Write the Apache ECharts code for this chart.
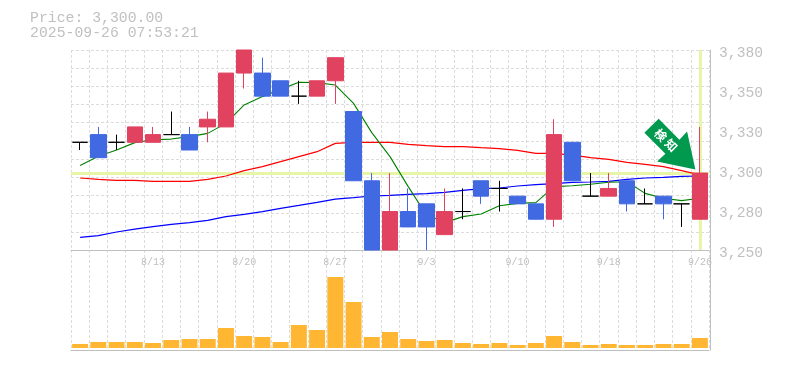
<!DOCTYPE html>
<html><head><meta charset="utf-8">
<style>html,body{margin:0;padding:0;background:#fff}#c{width:785px;height:370px}</style>
<script src="https://cdn.jsdelivr.net/npm/echarts@6/dist/echarts.min.js"></script>
</head><body><div id="c"></div>
<script>
const dates=['8/6','8/7','8/8','8/12','8/13','8/14','8/15','8/18','8/19','8/20','8/21','8/22','8/25','8/26','8/27','8/28','8/29','9/1','9/2','9/3','9/4','9/5','9/8','9/9','9/10','9/11','9/12','9/16','9/17','9/18','9/19','9/22','9/24','9/25','9/26'];
const opens=[3320,3325,3320,3320,3320,3325,3325,3330,3330,3365,3365,3360,3350,3350,3360,3340,3295,3250,3275,3280,3260,3275,3295,3290,3285,3280,3270,3320,3285,3285,3295,3280,3285,3280,3270];
const closes=[3320,3310,3320,3330,3325,3325,3315,3335,3365,3380,3350,3350,3350,3360,3375,3295,3250,3275,3265,3265,3275,3275,3285,3290,3280,3270,3325,3295,3285,3290,3280,3280,3280,3280,3300];
const lows=[3315,3310,3315,3320,3320,3325,3315,3320,3330,3355,3350,3350,3345,3350,3345,3295,3250,3250,3265,3250,3260,3270,3280,3275,3280,3270,3265,3295,3285,3285,3275,3280,3270,3265,3270];
const highs=[3320,3330,3325,3330,3330,3340,3330,3340,3365,3380,3375,3360,3360,3360,3375,3340,3300,3300,3290,3280,3290,3290,3295,3295,3285,3280,3335,3320,3300,3300,3295,3290,3285,3280,3330];
const maGreen=[3305,3310.9,3315,3319.8,3321.7,3322.1,3323.7,3325.8,3332.3,3344.3,3349.7,3354.4,3359,3358.8,3357.2,3345.3,3326.3,3310.7,3291.2,3272.7,3267.8,3271.7,3273.4,3278.8,3280.3,3280.8,3291.2,3291.8,3292.7,3294,3294.4,3286.8,3283.6,3282.1,3283.6];
const maRed=[3296.8,3295.9,3295.3,3295.3,3294.6,3294.6,3294.6,3295.9,3298.1,3301.6,3304.2,3307.4,3310.7,3313.9,3319.3,3320,3320,3320,3318.7,3317.8,3317.2,3317.2,3316.5,3315.9,3314.8,3312.8,3312.8,3311.7,3310,3308.9,3307,3305.7,3304.2,3301.6,3298.8];
const maBlue=[3258.2,3259.3,3261.7,3263.6,3265.2,3266.7,3267.8,3269.3,3271.7,3273.2,3274.9,3277.1,3279,3281,3283.1,3284,3285.1,3285.5,3286.2,3286.6,3287.5,3288.8,3289.9,3290.3,3291.6,3292.5,3293.1,3294,3294.2,3294.6,3295.9,3296.8,3297.2,3297.9,3298.1];
const volumes=[4,6,6,6,5,8,9,9,20,12,11,6,23,18,71,46,11,16,9,7,8,5,4,5,3,5,12,6,3,4,3,3,4,4,10];
const labelEvery=new Set(['8/13','8/20','8/27','9/3','9/10','9/18','9/26']);
const lastPrice=3300;
const titleLines=['Price: 3,300.00','2025-09-26 07:53:21'];

const RED='#e0425f',BLUE='#4169e1',GREY='#c0c0c0',GRID='#dcdcdc';
const FONT='"Liberation Mono",monospace';
const arrow='path://M14.3 0L0 14L21 35L12.7 42.7L51 50.7L42.7 12.7L35 21Z';
const chart=echarts.init(document.getElementById('c'),null,{renderer:'canvas'});
const vSplit={show:true,interval:0,lineStyle:{color:GRID,type:[3,2],width:1}};
chart.setOption({
  animation:false,
  backgroundColor:'#fff',
  title:{left:30,top:11,padding:0,text:titleLines.join('\n'),textStyle:{fontFamily:FONT,fontSize:14.8,fontWeight:'normal',color:GREY,lineHeight:15}},
  grid:[{left:71,top:50,width:638,height:200},{left:71,top:250,width:638,height:100}],
  xAxis:[
    {type:'category',gridIndex:0,data:dates,boundaryGap:true,
     axisLine:{lineStyle:{color:GREY,width:1},onZero:false},axisTick:{show:false},
     axisLabel:{interval:0,formatter:v=>labelEvery.has(v)?v:'',fontFamily:FONT,fontSize:10,color:GREY,margin:7,hideOverlap:false},
     splitLine:vSplit},
    {type:'category',gridIndex:1,data:dates,boundaryGap:true,
     axisLine:{lineStyle:{color:GREY,width:1},onZero:false},axisTick:{show:false},axisLabel:{show:false},
     splitLine:vSplit}
  ],
  yAxis:[
    {type:'value',gridIndex:0,position:'right',min:3250,max:3380,interval:26,
     axisLine:{show:true,onZero:false,lineStyle:{color:GREY,width:1}},axisTick:{show:false},offset:1,
     axisLabel:{formatter:v=>{const r=Math.round(v/10)*10;return String(r).replace(/(\d)(\d{3})$/,'$1,$2');},fontFamily:FONT,fontSize:14.7,color:GREY,margin:9,verticalAlign:'top',lineHeight:6},
     splitLine:{show:false}},
    {type:'value',gridIndex:0,position:'left',min:3250,max:3380,interval:130/11,
     axisLine:{show:false},axisTick:{show:false},axisLabel:{show:false},
     splitLine:{show:true,lineStyle:{color:GRID,type:[3,2],width:1}}},
    {type:'value',gridIndex:1,position:'right',min:-2,max:98,
     axisLine:{show:true,onZero:false,lineStyle:{color:GREY,width:1}},axisTick:{show:false},axisLabel:{show:false},offset:1,
     splitLine:{show:false}}
  ],
  series:[
    {type:'line',name:'guides',xAxisIndex:0,yAxisIndex:0,data:[],z:1,silent:true,
     markLine:{z:1,silent:true,symbol:'none',animation:false,label:{show:false},
       lineStyle:{color:'#e6f5a6',type:'solid',width:3},
       data:[{yAxis:lastPrice},{xAxis:dates[dates.length-1]}]}},
    {type:'line',name:'MA blue',xAxisIndex:0,yAxisIndex:0,data:maBlue,z:2,symbol:'none',lineStyle:{color:'#0000ff',width:1.2}},
    {type:'line',name:'MA red',xAxisIndex:0,yAxisIndex:0,data:maRed,z:2,symbol:'none',lineStyle:{color:'#ff0000',width:1.2}},
    {type:'line',name:'MA green',xAxisIndex:0,yAxisIndex:0,data:maGreen,z:2,symbol:'none',lineStyle:{color:'#008000',width:1.1}},
    {type:'candlestick',name:'price',xAxisIndex:0,yAxisIndex:0,z:3,barWidth:16,
     data:dates.map((d,i)=>[opens[i],closes[i],lows[i],highs[i]]),
     itemStyle:{color:RED,color0:BLUE,borderColor:RED,borderColor0:BLUE,borderColorDoji:'#000',borderWidth:1},
     markPoint:{silent:true,animation:false,z:6,
       data:[{coord:[dates[dates.length-1],lastPrice],symbol:arrow,symbolSize:[51,51],symbolKeepAspect:true,symbolOffset:[-30,-29],
         itemStyle:{color:'#00994d'},
         label:{show:true,formatter:'検 知',position:'inside',rotate:-45,offset:[-5.6,0],color:'#fff',fontSize:12,fontWeight:'bold',fontFamily:'"Noto Sans CJK JP"'}}]}},
    {type:'bar',name:'volume',xAxisIndex:1,yAxisIndex:2,data:volumes,barWidth:16,itemStyle:{color:'#ffb733'},z:2}
  ]
});
</script></body></html>
